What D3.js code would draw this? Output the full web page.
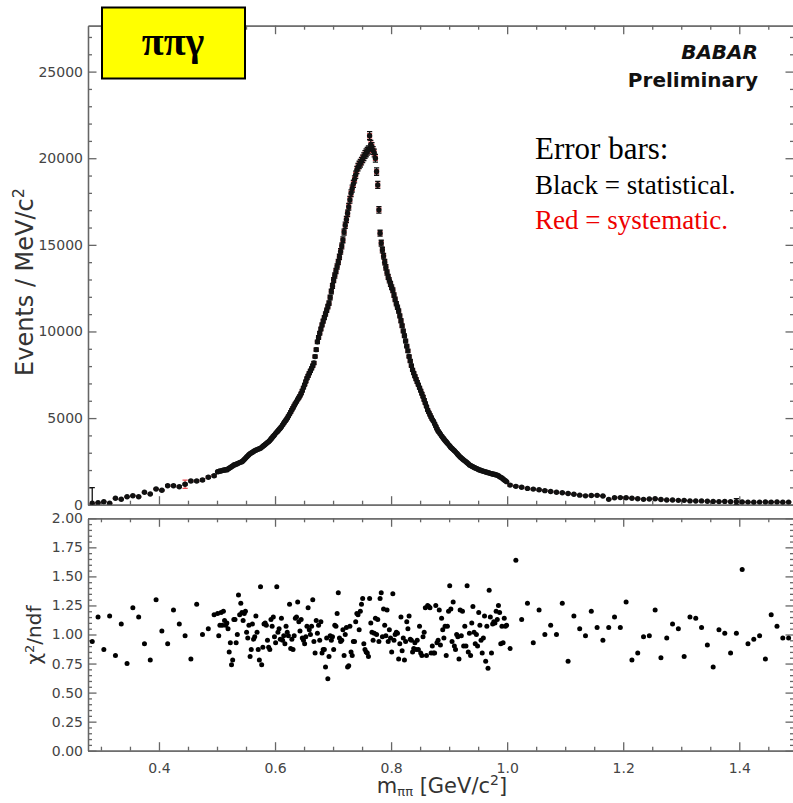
<!DOCTYPE html>
<html>
<head>
<meta charset="utf-8">
<script src="https://d3js.org/d3.v7.min.js"></script>
<style>
  body { margin: 0; background: #fff; }
  svg { display: block; }
  .tick text { font-family: "DejaVu Sans", sans-serif; font-size: 14px; fill: #444; }
  .axis path, .axis line { stroke: #666; stroke-width: 1.3; }
</style>
</head>
<body>
<svg id="chart" width="793" height="803"></svg>
<script>
// bin layout: 10 MeV bins below 0.5 and above 1.0, 2 MeV bins in between
const lowBins = {start: 0.285, step: 0.01};
const midBins = {start: 0.501, step: 0.002};
const highBins = {start: 1.005, step: 0.01};

// events / MeV/c^2
const eventsLow = [80, 115, 173, 80, 370, 312, 462, 520, 462, 716, 618, 906, 831, 1097, 1097, 1040, 1178, 1368, 1368, 1426, 1582, 1674];

const eventsMid = [
  1900, 1920, 1950, 1940, 1980, 1990, 2000, 2020, 2010, 2060,
  2110, 2150, 2190, 2240, 2290, 2310, 2340, 2370, 2400, 2430,
  2460, 2480, 2540, 2610, 2680, 2750, 2820, 2890, 2950, 2990,
  3030, 3070, 3110, 3150, 3180, 3210, 3230, 3260, 3310, 3370,
  3420, 3480, 3530, 3590, 3640, 3710, 3790, 3870, 3950, 4030,
  4120, 4190, 4260, 4340, 4410, 4500, 4600, 4700, 4800, 4890,
  4990, 5110, 5230, 5350, 5480, 5600, 5720, 5840, 5950, 6070,
  6180, 6290, 6420, 6580, 6760, 6930, 7110, 7300, 7440, 7590,
  7730, 7870, 8020, 8180, 8550, 8950, 9400, 9650, 9900, 10140,
  10380, 10600, 10800, 11010, 11220, 11430, 11630, 11960, 12300, 12630,
  12970, 13230, 13490, 13750, 14010, 14300, 14620, 14930, 15290, 15740,
  16130, 16460, 16820, 17200, 17600, 17980, 18250, 18520, 18780, 19050,
  19320, 19480, 19610, 19710, 19830, 19960, 20090, 20220, 20310, 20400,
  20480, 21300, 20800, 20670, 20450, 20300, 20000, 19230, 18460, 17020,
  15670,
  15100, 14700, 14350, 14000, 13700, 13400, 13150, 12950, 12750, 12550,
  12380, 12100, 11850, 11600, 11400, 11180, 10900, 10620, 10330, 10030,
  9750, 9450, 9150, 8880, 8560, 8300, 8020, 7780, 7600, 7420,
  7250, 7080, 6920, 6750, 6580, 6410, 6240, 6050, 5860, 5670,
  5470, 5330, 5190, 5050, 4920, 4820, 4670, 4530, 4380, 4260,
  4170, 4070, 3970, 3880, 3790, 3710, 3630, 3550, 3470, 3390,
  3300, 3240, 3180, 3110, 3050, 2980, 2900, 2820, 2760, 2700,
  2640, 2580, 2530, 2480, 2420, 2360, 2290, 2260, 2220, 2190,
  2150, 2120, 2090, 2060, 2020, 2000, 1980, 1950, 1930, 1910,
  1890, 1870, 1850, 1830, 1810, 1790, 1770, 1760, 1740, 1720,
  1700, 1670, 1620, 1580, 1540, 1480, 1430, 1380, 1330
];

const eventsHigh = [
  1130, 1060, 1010, 940, 900, 860, 810, 760, 720, 690,
  650, 600, 550, 510, 530, 540, 500, 310, 400, 410,
  400, 370, 340, 310, 330, 340, 300, 270, 270, 250,
  250, 220, 210, 220, 200, 190, 180, 190, 170, 175,
  160, 150, 140, 150, 160, 150, 155, 140, 150
];

// chi2/ndf per bin
const chi2Low = [0.94, 1.15, 0.87, 1.16, 0.82, 1.09, 0.75, 1.23, 1.15, 0.92, 0.78, 1.30, 1.03, 0.92, 1.21, 1.09, 0.99, 0.79, 1.26, 1.00, 1.05, 1.17];

const chi2Mid = [
  1.18, 0.99, 1.08, 1.19, 1.08, 1.20, 1.12, 1.08, 1.10, 1.05,
  0.85, 0.93, 0.74, 0.78, 1.13, 1.13, 0.93, 1.00, 1.34, 1.17,
  1.27, 1.19, 1.12, 1.18, 1.20, 1.02, 0.97, 1.08, 0.81, 0.87,
  1.09, 0.96, 0.98, 1.16, 1.02, 0.87, 0.78, 1.41, 0.74, 0.89,
  1.09, 1.10, 1.08, 0.95, 0.89, 0.87, 1.13, 1.07, 1.15, 0.98,
  0.93, 1.41, 1.02, 1.05, 0.96, 1.14, 0.95, 0.99, 0.92, 1.07,
  1.02, 0.99, 1.26, 0.88, 0.96, 0.87, 0.99, 1.14, 1.15, 1.28,
  1.11, 1.03, 1.13, 0.97, 0.95, 0.92, 0.98, 1.07, 1.23, 1.04,
  1.00, 1.07, 1.30, 0.94, 0.84, 1.12, 1.01, 1.08, 0.95, 1.11,
  0.84, 0.87, 0.87, 0.72, 0.97, 0.62, 0.81, 0.99, 0.95, 0.98,
  0.87, 1.08, 1.07, 1.18, 1.36, 0.97, 0.94, 0.95, 1.04, 0.82,
  1.00, 1.06, 0.72, 0.73, 1.07, 0.85, 0.82, 0.94, 0.94, 1.11,
  1.18, 1.17, 1.04, 1.20, 1.26, 1.31, 0.92, 0.87, 0.85, 0.84,
  0.81, 1.31, 1.10,
  1.02, 0.95, 1.01, 1.14, 1.00, 1.13, 0.94, 1.31, 1.36, 0.98,
  1.22, 1.08, 0.99, 1.21, 0.94, 1.04, 0.97, 0.85, 1.35, 0.95,
  1.00, 1.02, 1.01, 0.79, 0.92, 1.15, 0.86, 0.97, 0.78, 0.94,
  1.11, 1.05, 1.16, 0.96, 0.95, 0.85, 0.88, 0.93, 0.87, 0.95,
  0.87, 1.07, 0.84, 0.82, 0.98, 1.02, 1.23, 0.82, 1.25, 1.24,
  1.23, 0.84, 0.90, 0.84, 0.84, 1.25, 0.93, 0.95, 1.21, 0.91,
  1.14, 1.04, 0.97, 1.07, 0.82, 1.07, 1.20, 1.42, 1.22, 0.94,
  1.28, 0.90, 0.87, 1.00, 0.98, 0.79, 1.21, 0.99, 1.20, 0.90,
  1.07, 0.90, 1.42, 0.85, 1.01, 0.82, 1.10, 1.24, 1.02, 0.92,
  1.00, 0.90, 1.19, 1.08, 0.95, 0.84, 0.97, 1.16, 0.77, 1.07,
  0.71, 1.38, 1.15, 0.84, 1.09, 1.11, 1.10, 1.20, 1.13, 1.25,
  1.19, 0.92, 1.07, 0.93, 1.14, 1.07, 1.08
];

const chi2High = [
  0.88, 1.64, 1.13, 1.27, 0.93, 1.21, 1.00, 1.08, 1.00, 1.27,
  0.77, 1.16, 1.05, 0.99, 1.20, 1.06, 0.95, 1.06, 1.15, 1.06,
  1.28, 0.78, 0.84, 0.98, 0.99, 1.21, 0.80, 0.97, 1.09, 1.05,
  0.81, 1.15, 1.14, 1.06, 0.91, 0.72, 1.04, 1.01, 0.84, 1.01,
  1.56, 0.92, 0.96, 0.99, 0.79, 1.17, 1.07, 0.97, 0.97
];

// relative errors (statistical, systematic) per region, plus the few bars that stand out
const statRel = {low: 0.04, mid: 0.011, high: 0.05};
const sysRel = {low: 0.02, mid: 0.006, high: 0.02};
const oddErrors = [
  {region: "low", i: 0, stat: 900},
  {region: "low", i: 16, sys: 240},
  {region: "high", i: 39, stat: 170}
];

const xMajor = [0.4, 0.6, 0.8, 1.0, 1.2, 1.4];
const yTopMajor = [0, 5000, 10000, 15000, 20000, 25000];
const yBotMajor = [0, 0.25, 0.5, 0.75, 1.0, 1.25, 1.5, 1.75, 2.0];

// ---- layout
const L = 88, R = 794;
const svg = d3.select("#chart");

const x = d3.scaleLinear().domain([0.2777, 1.4943]).range([L, R]);
const yTop = d3.scaleLinear().domain([0, 27650]).range([504.7, 25.7]);
const yBot = d3.scaleLinear().domain([0, 2]).range([750.7, 518.3]);

const xMinor = d3.range(6, 30).map(k => k * 0.05).filter(v => !xMajor.some(m => Math.abs(m - v) < 1e-6));
const yTopMinor = d3.range(0, 28).map(k => k * 1000).filter(v => v % 5000);
const yBotMinor = d3.range(0, 41).map(k => k * 0.05).filter(v => Math.abs(v / 0.25 - Math.round(v / 0.25)) > 1e-6);

// gather the bins
function bins(region, spec, events, chi2) {
  return events.map((v, i) => {
    const odd = oddErrors.find(e => e.region === region && e.i === i) || {};
    return {
      m: spec.start + i * spec.step,
      v: v,
      chi2: chi2[i],
      stat: odd.stat || v * statRel[region],
      sys: odd.sys || v * sysRel[region]
    };
  });
}
const data = [].concat(
  bins("low", lowBins, eventsLow, chi2Low),
  bins("mid", midBins, eventsMid, chi2Mid),
  bins("high", highBins, eventsHigh, chi2High)
);

// ---- frames with inward ticks
function frame(y, yMajor, yMinor, fmt, labelX) {
  const [y0, y1] = y.range(); // bottom, top
  const g = svg.append("g").attr("class", "axis");

  const side = (axis, tx, ty, values, size) =>
    g.append("g")
        .attr("transform", `translate(${tx},${ty})`)
        .call(axis.tickValues(values).tickSize(size).tickSizeOuter(0).tickFormat(""));

  side(d3.axisRight(y), L, 0, yMajor, 8.5);
  side(d3.axisRight(y), L, 0, yMinor, 4);
  side(d3.axisLeft(y), R, 0, yMajor, 8.5);
  side(d3.axisLeft(y), R, 0, yMinor, 4);
  side(d3.axisBottom(x), 0, y1, xMajor, 8.5);
  side(d3.axisBottom(x), 0, y1, xMinor, 4);
  side(d3.axisTop(x), 0, y0, xMajor, 8.5);
  side(d3.axisTop(x), 0, y0, xMinor, 4);

  g.append("g")
      .attr("transform", `translate(${L},0)`)
      .call(d3.axisLeft(y).tickValues(yMajor).tickSize(0).tickPadding(5).tickFormat(fmt))
      .call(s => s.select(".domain").remove());

  if (labelX) {
    g.append("g")
        .attr("transform", `translate(0,${y0})`)
        .call(d3.axisBottom(x).tickValues(xMajor).tickSize(0).tickPadding(12).tickFormat(d3.format(".1f")))
        .call(s => s.select(".domain").remove());
  }
}

frame(yTop, yTopMajor, yTopMinor, d3.format("d"), false);
frame(yBot, yBotMajor, yBotMinor, d3.format(".2f"), true);

// ---- spectrum
svg.append("clipPath").attr("id", "clipTop")
  .append("rect").attr("x", L).attr("y", 25.7).attr("width", R - L).attr("height", 479);

const spec = svg.append("g").attr("clip-path", "url(#clipTop)");

function errorBars(g, key, color, width) {
  const cap = 2.6;
  return g.append("g")
      .attr("stroke", color)
      .attr("stroke-width", width)
      .attr("fill", "none")
    .selectAll("path")
    .data(data)
    .join("path")
      .attr("d", d => {
        const cx = x(d.m), hi = yTop(d.v + d[key]), lo = yTop(d.v - d[key]);
        return `M${cx},${hi}V${lo}M${cx - cap},${hi}H${cx + cap}M${cx - cap},${lo}H${cx + cap}`;
      });
}

errorBars(spec, "sys", "#e8333a", 1.2).attr("opacity", 0.85);
errorBars(spec, "stat", "#111", 1.3);

spec.append("g")
    .attr("fill", "#111")
  .selectAll("circle")
  .data(data)
  .join("circle")
    .attr("cx", d => x(d.m))
    .attr("cy", d => yTop(d.v))
    .attr("r", 2.7);

// ---- chi2 panel
svg.append("g")
    .attr("fill", "#000")
  .selectAll("circle")
  .data(data)
  .join("circle")
    .attr("cx", d => x(d.m))
    .attr("cy", d => yBot(d.chi2))
    .attr("r", 2.5);

// ---- axis titles
const sans = "'DejaVu Sans', sans-serif";

const yt = svg.append("text")
    .attr("transform", "translate(33,282) rotate(-90)")
    .attr("text-anchor", "middle")
    .attr("font-family", sans)
    .attr("font-size", 24)
    .attr("fill", "#333")
    .text("Events / MeV/c");
yt.append("tspan").attr("baseline-shift", "super").attr("font-size", 16).text("2");

const ct = svg.append("text")
    .attr("transform", "translate(41,635) rotate(-90)")
    .attr("text-anchor", "middle")
    .attr("font-family", sans)
    .attr("font-size", 20)
    .attr("fill", "#333")
    .text("\u03c7");
ct.append("tspan").attr("baseline-shift", "super").attr("font-size", 13).text("2");
ct.append("tspan").text("/ndf");

const xt = svg.append("text")
    .attr("x", 442)
    .attr("y", 793)
    .attr("text-anchor", "middle")
    .attr("font-family", sans)
    .attr("font-size", 21)
    .attr("fill", "#333")
    .text("m");
xt.append("tspan").attr("baseline-shift", "-3").attr("font-size", 13).text("\u03c0\u03c0");
xt.append("tspan").attr("baseline-shift", "0").text(" [GeV/c");
xt.append("tspan").attr("baseline-shift", "super").attr("font-size", 14).text("2");
xt.append("tspan").attr("baseline-shift", "0").text("]");

// ---- labels
svg.append("rect")
    .attr("x", 102).attr("y", 7.5)
    .attr("width", 143).attr("height", 71)
    .attr("fill", "#ffff00")
    .attr("stroke", "#000")
    .attr("stroke-width", 2);

svg.append("text")
    .attr("x", 173).attr("y", 55)
    .attr("text-anchor", "middle")
    .attr("font-family", "'Liberation Serif', 'DejaVu Serif', serif")
    .attr("font-weight", "bold")
    .attr("font-size", 40)
    .text("\u03c0\u03c0\u03b3");

svg.append("text")
    .attr("x", 758).attr("y", 59)
    .attr("text-anchor", "end")
    .attr("font-family", sans)
    .attr("font-weight", "bold")
    .attr("font-style", "italic")
    .attr("font-size", 20)
    .attr("fill", "#111")
    .text("BABAR");

svg.append("text")
    .attr("x", 758).attr("y", 87)
    .attr("text-anchor", "end")
    .attr("font-family", sans)
    .attr("font-weight", "bold")
    .attr("font-size", 20)
    .attr("fill", "#111")
    .text("Preliminary");

const serif = "'Liberation Serif', 'Times New Roman', serif";
const notes = [
  {text: "Error bars:", y: 159, size: 31, color: "#000"},
  {text: "Black = statistical.", y: 194, size: 27, color: "#000"},
  {text: "Red = systematic.", y: 229, size: 27, color: "#ee0000"}
];
svg.append("g")
  .selectAll("text")
  .data(notes)
  .join("text")
    .attr("x", 535)
    .attr("y", d => d.y)
    .attr("font-family", serif)
    .attr("font-size", d => d.size)
    .attr("fill", d => d.color)
    .text(d => d.text);
</script>
</body>
</html>
